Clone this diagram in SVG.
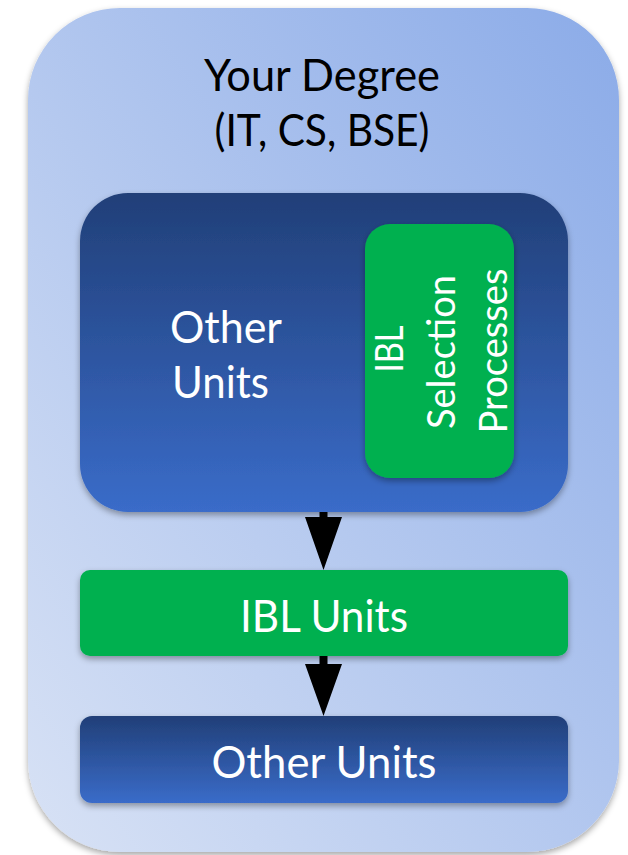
<svg xmlns="http://www.w3.org/2000/svg" width="628" height="855" viewBox="0 0 628 855">
  <style>
    .lbl { font-family: Lato, "Liberation Sans", sans-serif; font-size: 44px; }
    .vert { font-size: 38px; }
    .white { fill: #ffffff; }
    .black { fill: #000000; }
    .arrow { fill: #000000; }
  </style>
  <defs>
    <linearGradient id="gOuter" x1="0" y1="1" x2="1" y2="0">
      <stop offset="0" stop-color="#D8E2F5"/>
      <stop offset="1" stop-color="#8BABE8"/>
    </linearGradient>
    <linearGradient id="gDark" x1="0" y1="0" x2="0" y2="1">
      <stop offset="0" stop-color="#213F78"/>
      <stop offset="1" stop-color="#3A6CC9"/>
    </linearGradient>
    <filter id="shadow" x="-10%" y="-10%" width="120%" height="125%">
      <feDropShadow dx="0" dy="3" stdDeviation="3" flood-color="#000000" flood-opacity="0.35"/>
    </filter>
  </defs>

  <g id="degree">
    <rect x="28" y="8" width="591" height="844" rx="92" ry="92" fill="url(#gOuter)" filter="url(#shadow)"/>
    <text class="lbl black" x="322" y="91" text-anchor="middle" textLength="236" lengthAdjust="spacingAndGlyphs">Your Degree</text>
    <text class="lbl black" x="322" y="146" text-anchor="middle" textLength="215" lengthAdjust="spacingAndGlyphs">(IT, CS, BSE)</text>
  </g>

  <g id="other-units-top">
    <rect x="80" y="193" width="488" height="319" rx="48" ry="48" fill="url(#gDark)" filter="url(#shadow)"/>
    <text class="lbl white" x="170" y="343" textLength="112" lengthAdjust="spacingAndGlyphs">Other</text>
    <text class="lbl white" x="172" y="398" textLength="97" lengthAdjust="spacingAndGlyphs">Units</text>
  </g>

  <g id="ibl-selection">
    <rect x="365" y="224" width="149" height="254" rx="25" ry="25" fill="#00B050" filter="url(#shadow)"/>
    <g class="lbl vert white" text-anchor="middle">
      <text transform="translate(403,349) rotate(-90)" x="0" y="0" textLength="47" lengthAdjust="spacingAndGlyphs">IBL</text>
      <text transform="translate(455,352) rotate(-90)" x="0" y="0" textLength="154" lengthAdjust="spacingAndGlyphs">Selection</text>
      <text transform="translate(507,351) rotate(-90)" x="0" y="0" textLength="165" lengthAdjust="spacingAndGlyphs">Processes</text>
    </g>
  </g>

  <g id="ibl-units">
    <rect x="80" y="570" width="488" height="86" rx="10" ry="10" fill="#00B050" filter="url(#shadow)"/>
    <text class="lbl white" x="324" y="632" text-anchor="middle" textLength="168" lengthAdjust="spacingAndGlyphs">IBL Units</text>
  </g>

  <g id="other-units-bottom">
    <rect x="80" y="716" width="488" height="87" rx="12" ry="12" fill="url(#gDark)" filter="url(#shadow)"/>
    <text class="lbl white" x="324" y="778" text-anchor="middle" textLength="225" lengthAdjust="spacingAndGlyphs">Other Units</text>
  </g>

  <g id="connectors">
    <path class="arrow" d="M319.5,512 H327.5 V517 H342 L323.5,570 L305,517 H319.5 Z"/>
    <path class="arrow" d="M319.5,656 H327.5 V664 H342 L323.5,716 L305,664 H319.5 Z"/>
  </g>
</svg>
